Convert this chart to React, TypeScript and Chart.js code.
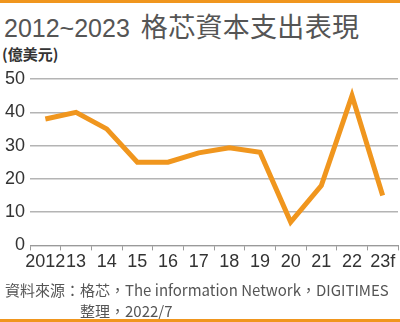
import React, { useEffect, useRef } from "react";
import { Chart, registerables } from "chart.js";

Chart.register(...registerables);

const categories = ["2012", "13", "14", "15", "16", "17", "18", "19", "20", "21", "22", "23f"];
const capex = [38, 40, 35, 25, 25, 27.8, 29.3, 28, 7, 18, 45, 15];
const yTicks = [0, 10, 20, 30, 40, 50];

const titleNum = "2012~2023";
const titleCjk = "格芯資本支出表現";
const unitLabel = "(億美元)";
const sourceLine1 = "資料來源：格芯，The information Network，DIGITIMES";
const sourceLine2 = "整理，2022/7";

const ORANGE = "#F0961E";

export default function App() {
  const ref = useRef<HTMLCanvasElement | null>(null);

  useEffect(() => {
    document.body.style.margin = "0";
    const ctx = ref.current!.getContext("2d")!;
    const chart = new Chart(ctx, {
      type: "line",
      data: {
        labels: categories,
        datasets: [
          {
            data: capex,
            borderColor: ORANGE,
            borderWidth: 5,
            pointRadius: 0,
            tension: 0,
            fill: false,
          },
        ],
      },
      options: {
        animation: false,
        responsive: false,
        maintainAspectRatio: false,
        layout: { padding: { left: 0, right: 2, top: 17, bottom: 6 } },
        plugins: { legend: { display: false }, tooltip: { enabled: false } },
        scales: {
          x: {
            offset: true,
            grid: {
              offset: true,
              drawOnChartArea: false,
              drawTicks: true,
              tickLength: 5,
              color: "#9a9a9a",
              lineWidth: 1,
            },
            border: { display: true, color: "#9a9a9a", width: 1 },
            ticks: {
              autoSkip: false,
              maxRotation: 0,
              minRotation: 0,
              padding: 1,
              color: "#333",
              font: { family: "'Liberation Sans', Arial, sans-serif", size: 18 },
            },
          },
          y: {
            min: 0,
            max: 50,
            afterBuildTicks: (axis: any) => {
              axis.ticks = yTicks.map((v) => ({ value: v }));
            },
            grid: { drawTicks: false, color: "#b4b4b4", lineWidth: 1.5 },
            border: { display: false },
            ticks: {
              padding: 5,
              color: "#333",
              font: { family: "'Liberation Sans', Arial, sans-serif", size: 18 },
            },
          },
        },
      },
    });
    return () => chart.destroy();
  }, []);

  return (
    <div
      style={{
        position: "absolute",
        left: 0,
        top: 0,
        width: 400,
        height: 322,
        overflow: "hidden",
        background: "#fff",
        fontFamily: "'Liberation Sans', 'Noto Sans CJK TC', sans-serif",
      }}
    >
      <div style={{ position: "absolute", left: 0, top: 0, width: 400, height: 3, background: ORANGE }} />
      <div
        style={{
          position: "absolute",
          left: 4,
          top: 11,
          whiteSpace: "nowrap",
          color: "#555",
          lineHeight: "30px",
        }}
      >
        <span style={{ fontSize: 25, fontFamily: "'Liberation Sans', Arial, sans-serif" }}>{titleNum}</span>
        <span
          style={{
            fontSize: 27,
            letterSpacing: 0.3,
            marginLeft: 11,
            fontFamily: "'Noto Sans CJK TC', sans-serif",
          }}
        >
          {titleCjk}
        </span>
      </div>
      <div
        style={{
          position: "absolute",
          left: 2,
          top: 44,
          fontSize: 15,
          lineHeight: "20px",
          fontWeight: "bold",
          color: "#333",
          whiteSpace: "nowrap",
          fontFamily: "'Noto Sans CJK TC', sans-serif",
        }}
      >
        {unitLabel}
      </div>
      <canvas
        ref={ref}
        width={400}
        height={218}
        style={{ position: "absolute", left: 0, top: 62, width: 400, height: 218 }}
      />
      <div
        style={{
          position: "absolute",
          left: 5,
          top: 279,
          fontSize: 15,
          lineHeight: "21px",
          color: "#555",
          whiteSpace: "nowrap",
          fontFamily: "'Noto Sans CJK TC', sans-serif",
        }}
      >
        <div>{sourceLine1}</div>
        <div style={{ paddingLeft: 75 }}>{sourceLine2}</div>
      </div>
      <div style={{ position: "absolute", left: 0, top: 319, width: 400, height: 3, background: ORANGE }} />
    </div>
  );
}
